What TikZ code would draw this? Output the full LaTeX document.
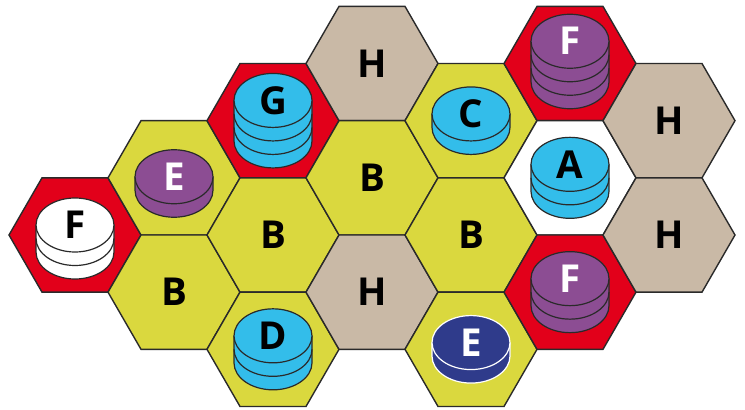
\documentclass[tikz,border=0pt]{standalone}
\usepackage{fontspec}
\setmainfont{Open Sans}
\usetikzlibrary{shapes.geometric}
\definecolor{hexyellow}{HTML}{DAD83E}
\definecolor{hextan}{HTML}{C9B9A6}
\definecolor{hexred}{HTML}{E2001A}
\definecolor{tokcyan}{HTML}{33BDEA}
\definecolor{tokpurple}{HTML}{8C4D93}
\definecolor{tokblue}{HTML}{2F3B8B}
\definecolor{edge}{HTML}{2A2A2A}
\newcommand\tokstack[6]{%
  \begin{scope}[shift={(#1,#2)}]
    \pgfmathsetmacro\ty{#3*6.75}
    \pgfmathsetmacro\by{\ty-#3*13.5}
    \fill[#4] (-39,\ty) -- (-39,\by) arc[start angle=180,end angle=360,x radius=39pt,y radius=27pt] -- (39,\ty) -- cycle;
    \draw[tokline,#5] (-39,\ty) -- (-39,\by) arc[start angle=180,end angle=360,x radius=39pt,y radius=27pt] -- (39,\ty);
    \ifnum#3>1
      \foreach \k in {2,...,#3}{
        \pgfmathsetmacro\ly{\ty-(\k-1)*13.5}
        \draw[tokline,#5] (-39,\ly) arc[start angle=180,end angle=360,x radius=39pt,y radius=27pt];
      }
    \fi
    \filldraw[tokline,fill=#4,draw=#5] (0,\ty) ellipse[x radius=39pt,y radius=27pt];
    \node[letter,#6] at (0,\ty) {\tokletter};
  \end{scope}}
\tikzset{
  hexcell/.style={regular polygon,regular polygon sides=6,minimum size=132pt,inner sep=0pt,draw=edge,line width=1.4pt,line join=miter},
  tokline/.style={line width=1.2pt},
  letter/.style={font=\bfseries\fontsize{38.5}{38.5}\selectfont,text height=27.5pt,text depth=0pt,inner sep=0pt}
}
\begin{document}
\begin{tikzpicture}[x=1pt,y=1pt]
\useasboundingbox (0,0) rectangle (745,410);
% hex cells
\node[hexcell,fill=hexred] (c0a) at (75,175) {};
\node[hexcell,fill=hexyellow] (c1a) at (174,232.16) {};
\node[hexcell,fill=hexyellow] (c1b) at (174,117.84) {};
\node[hexcell,fill=hexred] (c2a) at (273,289.32) {};
\node[hexcell,fill=hexyellow] (c2b) at (273,175) {};
\node[hexcell,fill=hexyellow] (c2c) at (273,60.68) {};
\node[hexcell,fill=hextan] (c3a) at (372,346.47) {};
\node[hexcell,fill=hexyellow] (c3b) at (372,232.16) {};
\node[hexcell,fill=hextan] (c3c) at (372,117.84) {};
\node[hexcell,fill=hexyellow] (c4a) at (471,289.32) {};
\node[hexcell,fill=hexyellow] (c4b) at (471,175) {};
\node[hexcell,fill=hexyellow] (c4c) at (471,60.68) {};
\node[hexcell,fill=hexred] (c5a) at (570,346.47) {};
\node[hexcell,fill=white] (c5b) at (570,232.16) {};
\node[hexcell,fill=hexred] (c5c) at (570,117.84) {};
\node[hexcell,fill=hextan] (c6a) at (669,289.32) {};
\node[hexcell,fill=hextan] (c6b) at (669,175) {};
% plain hex labels
\node[letter] (l1b) at (c1b.center) {B};
\node[letter] (l2b) at (c2b.center) {B};
\node[letter] (l3a) at (c3a.center) {H};
\node[letter] (l3b) at (c3b.center) {B};
\node[letter] (l3c) at (c3c.center) {H};
\node[letter] (l4b) at (c4b.center) {B};
\node[letter] (l6a) at (c6a.center) {H};
\node[letter] (l6b) at (c6b.center) {H};
% token stacks
\def\tokletter{F}\tokstack{75}{171.5}{2}{white}{edge}{black}
\def\tokletter{E}\tokstack{174}{226.5}{1}{tokpurple}{edge}{white}
\def\tokletter{G}\tokstack{273}{289.32}{3}{tokcyan}{edge}{black}
\def\tokletter{D}\tokstack{273}{60.68}{2}{tokcyan}{edge}{black}
\def\tokletter{C}\tokstack{471}{289.32}{1}{tokcyan}{edge}{black}
\def\tokletter{E}\tokstack{471}{60.68}{1}{tokblue}{white}{white}
\def\tokletter{F}\tokstack{570}{348.5}{3}{tokpurple}{edge}{white}
\def\tokletter{A}\tokstack{570}{232.16}{2}{tokcyan}{edge}{black}
\def\tokletter{F}\tokstack{570}{117.84}{2}{tokpurple}{edge}{white}
\end{tikzpicture}
\end{document}
